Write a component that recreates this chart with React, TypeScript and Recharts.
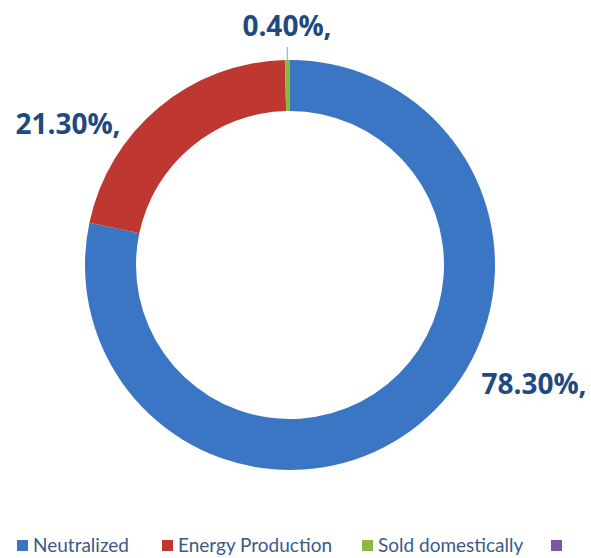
import React from "react";
import { PieChart, Pie, Cell, Legend } from "recharts";

// 데이터
const categories = ["Neutralized", "Energy Production", "Sold domestically", ""];
const shares = [78.3, 21.3, 0.4, 0];
const labelTexts = ["78.30%,", "21.30%,", "0.40%,", ""];
const colors = ["#3a76c4", "#bf3731", "#8fb840", "#7a55a8"];

// 레이아웃 (중심 기준 라벨 위치)
const labelOffsets = [
  { dx: 244, dy: 118 },
  { dx: -222, dy: -142 },
  { dx: -3, dy: -240 },
  null,
];
const legendGaps = [33, 30, 28, 0];

const data = categories.map((name, i) => ({ name, value: shares[i] }));

const LABEL_FONT = "'Open Sans', 'DejaVu Sans', sans-serif";

function renderLabel(props: any) {
  const { cx, cy, index } = props;
  const off = labelOffsets[index];
  if (!off || !labelTexts[index]) return null;
  return (
    <text
      x={cx + off.dx}
      y={cy + off.dy}
      textAnchor="middle"
      dominantBaseline="central"
      fill="#1f4a80"
      fontFamily={LABEL_FONT}
      fontWeight={700}
      fontSize={28}
    >
      {labelTexts[index]}
    </text>
  );
}

function renderLabelLine(props: any) {
  const { cx, cy, midAngle, outerRadius, index } = props;
  // 작은 조각에만 지시선
  if (index !== 2) return <g />;
  const rad = Math.PI / 180;
  const x1 = cx + outerRadius * Math.cos(-midAngle * rad);
  const y1 = cy + outerRadius * Math.sin(-midAngle * rad);
  const x2 = cx + (outerRadius + 13) * Math.cos(-midAngle * rad);
  const y2 = cy + (outerRadius + 13) * Math.sin(-midAngle * rad);
  return <line x1={x1} y1={y1} x2={x2} y2={y2} stroke="#9dc0e4" strokeWidth={1.5} />;
}

function LegendContent() {
  return (
    <div
      style={{
        display: "flex",
        justifyContent: "flex-start",
        alignItems: "center",
        paddingLeft: 17,
        fontFamily: "Lato, 'Open Sans', sans-serif",
        fontSize: 19,
        lineHeight: "24px",
        color: "#3b5a88",
      }}
    >
      {categories.map((name, i) => (
        <div
          key={i}
          style={{ display: "flex", alignItems: "center", marginRight: legendGaps[i] }}
        >
          <span
            style={{
              display: "inline-block",
              width: 11,
              height: 11,
              background: colors[i],
              marginRight: name ? 5 : 0,
            }}
          />
          {name && <span>{name}</span>}
        </div>
      ))}
    </div>
  );
}

export default function App() {
  return (
    <div style={{ position: "absolute", left: 0, top: 0, width: 591, height: 558, background: "#fff" }}>
      <PieChart width={591} height={558} margin={{ top: 0, right: 0, bottom: 0, left: 0 }}>
        <Pie
          data={data}
          dataKey="value"
          nameKey="name"
          cx={290}
          cy={265}
          innerRadius={154}
          outerRadius={205}
          startAngle={90}
          endAngle={-270}
          stroke="none"
          label={renderLabel}
          labelLine={renderLabelLine}
          isAnimationActive={false}
        >
          {data.map((_, i) => (
            <Cell key={i} fill={colors[i]} />
          ))}
        </Pie>
        <Legend
          content={<LegendContent />}
          wrapperStyle={{ position: "absolute", top: 533, left: 0, width: 591 }}
        />
      </PieChart>
    </div>
  );
}
